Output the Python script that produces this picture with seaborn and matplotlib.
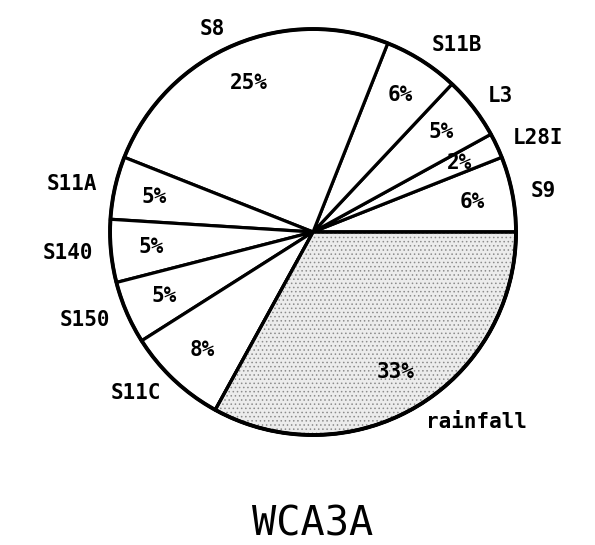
import matplotlib
matplotlib.use('Agg')
import matplotlib.pyplot as plt
from matplotlib.patches import Wedge
import seaborn as sns

# sources of inflow to WCA3A (percent), counter-clockwise from 3 o'clock
sources = ['S9', 'L28I', 'L3', 'S11B', 'S8', 'S11A', 'S140', 'S150', 'S11C', 'rainfall']
shares = [6, 2, 5, 6, 25, 5, 5, 5, 8, 33]
title = 'WCA3A'

sns.set_theme(style='white')
plt.rcParams['font.family'] = ['DejaVu Sans Mono', 'DejaVu Sans']
plt.rcParams['hatch.linewidth'] = 0.6

colors = ['white'] * (len(sources) - 1) + ['#ececec']

fig = plt.figure(figsize=(5.95, 5.45), dpi=100)
ax = fig.add_axes([0, 0, 1, 1])

wedges, texts, autotexts = ax.pie(
    shares, labels=sources, colors=colors,
    startangle=0, counterclock=True,
    labeldistance=1.09, pctdistance=0.8,
    autopct='%d%%',
    wedgeprops=dict(edgecolor='black', linewidth=2.3),
    textprops=dict(fontsize=15, fontweight='bold', color='black'),
)

# stipple on the rainfall wedge
rw = wedges[-1]
stip = Wedge(rw.center, rw.r, rw.theta1, rw.theta2, facecolor='none',
             edgecolor='#8c8c8c', hatch='....', lw=0, zorder=rw.get_zorder() + 0.1)
ax.add_patch(stip)
ax.add_patch(Wedge(rw.center, rw.r, rw.theta1, rw.theta2, fill=False,
                   ec='black', lw=2.3, zorder=rw.get_zorder() + 0.2))

# outer rim a bit heavier
ax.add_patch(plt.Circle((0, 0), 1, fill=False, lw=2.8, ec='black', zorder=5))

for t in autotexts:
    t.set_zorder(6)

ax.set_aspect('equal')
ax.set_xlim(-1.542, 1.389)
ax.set_ylim(-1.542, 1.143)
ax.axis('off')

fig.text(313 / 595, 1 - 524 / 545, title, ha='center', va='center',
         fontsize=29, color='black', family='DejaVu Sans Mono')

fig.savefig('out.png', dpi=100)
